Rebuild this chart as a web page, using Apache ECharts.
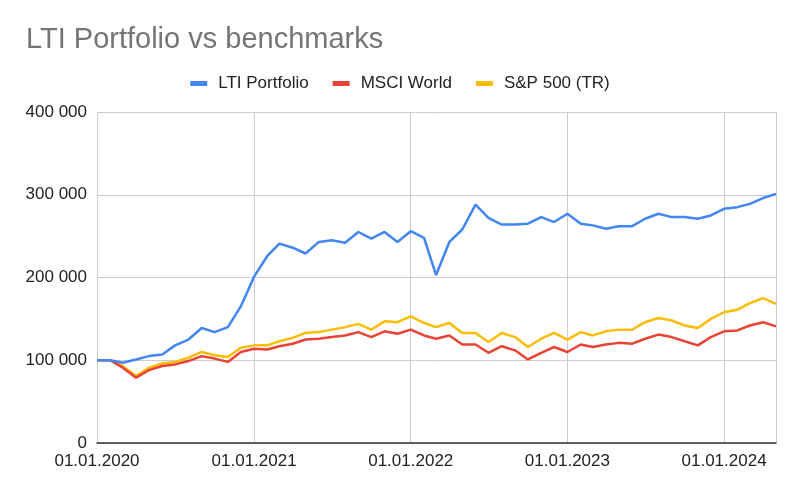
<!DOCTYPE html>
<html>
<head>
<meta charset="utf-8">
<script src="https://cdn.jsdelivr.net/npm/echarts@6/dist/echarts.min.js"></script>
<style>
  html, body { margin: 0; padding: 0; background: #fff; }
  #chart { width: 800px; height: 494px; }
</style>
</head>
<body>
<div id="chart"></div>
<script>
// monthly dates, first day of each month, Jan 2020 .. May 2024
const startYear = 2020;
const monthCount = 53;
const dates = [];
for (let i = 0; i < monthCount; i++) {
  const y = startYear + Math.floor(i / 12);
  const m = (i % 12) + 1;
  dates.push(y + "-" + (m < 10 ? "0" + m : m) + "-01");
}

const seriesNames = ["LTI Portfolio", "MSCI World", "S&P 500 (TR)"];

const ltiPortfolio = [
  100000, 100000, 97000, 101000, 105000, 107000, 118000, 125000, 139000, 134000, 140000, 165000,
  201000, 226000, 241000, 236000, 229000, 243000, 245000, 242000, 255000, 247000, 255000, 243000,
  256000, 248000, 203000, 243000, 258000, 288000, 272000, 264000, 264000, 265000, 273000, 267000,
  277000, 265000, 263000, 259000, 262000, 262000, 271000, 277000, 273000, 273000, 271000, 275000,
  283000, 285000, 289000, 296000, 301000
];

const msciWorld = [
  100000, 100000, 91000, 79000, 88000, 93000, 95000, 99000, 105000, 102000, 98000, 110000,
  114000, 113000, 117000, 120000, 125000, 126000, 128000, 130000, 134000, 128000, 135000, 132000,
  137000, 130000, 126000, 130000, 119000, 119000, 109000, 117000, 112000, 101000, 109000, 116000,
  110000, 119000, 116000, 119000, 121000, 120000, 126000, 131000, 128000, 123000, 118000, 128000,
  135000, 136000, 142000, 146000, 141000
];

const sp500 = [
  100000, 100000, 93000, 81000, 91000, 96000, 98000, 103000, 110000, 106000, 104000, 115000,
  118000, 118000, 123000, 127000, 133000, 134000, 137000, 140000, 144000, 137000, 147000, 146000,
  153000, 145000, 140000, 145000, 133000, 133000, 122000, 133000, 128000, 116000, 126000, 133000,
  125000, 134000, 130000, 135000, 137000, 137000, 146000, 151000, 148000, 142000, 139000, 150000,
  158000, 161000, 169000, 175000, 168000
];

const yTicks = [0, 100000, 200000, 300000, 400000];

const colors = ["#4285F4", "#EA4335", "#FBBC04"];

function pairs(values) {
  return values.map((v, i) => [dates[i], v]);
}

function fmtThousands(v) {
  return String(v).replace(/\B(?=(\d{3})+(?!\d))/g, " ");
}

const YEAR = 365 * 24 * 3600 * 1000;

let myChart = echarts.init(document.getElementById("chart"));
myChart.setOption({
  animation: false,
  color: colors,
  textStyle: { fontFamily: "'Liberation Sans', Arial, sans-serif" },
  title: {
    text: "LTI Portfolio vs benchmarks",
    left: 21,
    top: 20,
    textStyle: { color: "#757575", fontSize: 29, fontWeight: "normal" }
  },
  legend: {
    top: 70,
    left: "center",
    itemWidth: 17,
    itemHeight: 5,
    itemGap: 24,
    icon: "rect",
    textStyle: { color: "#222", fontSize: 17, padding: [0, 0, 0, 6] },
    data: seriesNames
  },
  grid: {
    left: 97,
    right: 24,
    top: 112,
    bottom: 51,
    containLabel: false,
    outerBoundsMode: "none"
  },
  xAxis: {
    type: "time",
    min: dates[0],
    max: dates[dates.length - 1],
    minInterval: YEAR,
    maxInterval: YEAR,
    axisLine: { show: true, lineStyle: { color: "#333", width: 1.5 } },
    axisTick: { show: false },
    splitLine: { show: true, lineStyle: { color: "#ccc", width: 1 } },
    axisLabel: {
      color: "#222",
      fontSize: 17,
      margin: 10,
      showMaxLabel: false,
      hideOverlap: false,
      formatter: "{dd}.{MM}.{yyyy}"
    }
  },
  yAxis: {
    type: "value",
    min: yTicks[0],
    max: yTicks[yTicks.length - 1],
    interval: yTicks[1] - yTicks[0],
    axisLine: { show: false },
    axisTick: { show: false },
    splitLine: { lineStyle: { color: "#ccc", width: 1 } },
    axisLabel: {
      color: "#222",
      fontSize: 17,
      margin: 10,
      formatter: fmtThousands
    }
  },
  series: [
    { name: seriesNames[0], type: "line", data: pairs(ltiPortfolio), showSymbol: false, lineStyle: { width: 2.5 }, z: 3 },
    { name: seriesNames[1], type: "line", data: pairs(msciWorld), showSymbol: false, lineStyle: { width: 2.5 }, z: 2 },
    { name: seriesNames[2], type: "line", data: pairs(sp500), showSymbol: false, lineStyle: { width: 2.5 }, z: 1 }
  ]
});
window.onresize = function () {
  myChart.resize();
};
</script>
</body>
</html>
